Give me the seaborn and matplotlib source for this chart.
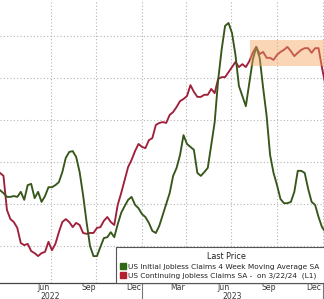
import matplotlib
matplotlib.use("Agg")
import matplotlib.pyplot as plt
import matplotlib.dates as mdates
from matplotlib.lines import Line2D
import seaborn as sns
import pandas as pd

# ---------------- data (weekly, thousands) ----------------
start_date = "2022-03-13"
continuing_claims = [
    1481, 1474, 1467, 1386, 1364, 1357, 1343, 1307, 1302, 1305,
    1288, 1283, 1276, 1283, 1286, 1310, 1290, 1305, 1333, 1357,
    1364, 1357, 1345, 1355, 1350, 1331, 1329, 1331, 1331, 1343,
    1345, 1360, 1369, 1357, 1350, 1398, 1426, 1457, 1488, 1505,
    1526, 1543, 1536, 1533, 1552, 1557, 1588, 1593, 1595, 1593,
    1612, 1619, 1631, 1645, 1650, 1657, 1683, 1667, 1655, 1655,
    1660, 1660, 1674, 1664, 1698, 1702, 1702, 1714, 1726, 1738,
    1726, 1733, 1726, 1740, 1760, 1774, 1757, 1762, 1748, 1748,
    1743, 1755, 1762, 1767, 1774, 1764, 1752, 1760, 1767, 1771,
    1771, 1760, 1771, 1771, 1724, 1683,
]
initial_claims_4wk = [
    213.8, 213.3, 212.6, 211.7, 211.7, 211.9, 211.7, 212.9, 211.0, 214.5,
    214.8, 211.4, 212.9, 210.5, 211.9, 214.0, 214.0, 214.5, 215.2, 217.6,
    221.0, 222.4, 222.6, 221.2, 217.6, 212.1, 205.7, 200.0, 197.6, 197.6,
    199.8, 201.9, 202.1, 203.3, 202.1, 205.2, 207.9, 209.5, 211.0, 211.7,
    209.8, 209.0, 207.6, 206.9, 205.5, 203.6, 203.1, 204.8, 207.4, 210.0,
    212.6, 216.7, 218.6, 221.7, 226.4, 224.3, 223.6, 222.9, 217.4, 216.7,
    217.6, 218.6, 224.0, 229.5, 239.5, 246.7, 252.4, 253.1, 250.7, 245.5,
    238.1, 235.7, 233.3, 238.8, 244.3, 247.4, 244.8, 237.6, 231.0, 221.7,
    217.4, 214.5, 211.2, 210.2, 210.2, 210.5, 212.9, 217.9, 217.9, 217.4,
    213.6, 210.5, 209.8, 206.9, 204.5, 203.3,
]
label_initial = "US Initial Jobless Claims 4 Week Moving Average SA  (R"
label_continuing = "US Continuing Jobless Claims SA -  on 3/22/24  (L1)"
legend_title = "Last Price"

month_label_dates = ["2022-06-15", "2022-09-15", "2022-12-15",
                     "2023-03-15", "2023-06-15", "2023-09-15", "2023-12-15"]
month_labels = ["Jun", "Sep", "Dec", "Mar", "Jun", "Sep", "Dec"]
year_label_dates = ["2022-06-29", "2023-07-02"]
year_labels = ["2022", "2023"]
year_break_dates = ["2023-01-01", "2024-01-01"]
quarter_grid_dates = ["2022-07-01", "2022-10-01", "2023-01-01", "2023-04-01",
                      "2023-07-01", "2023-10-01", "2024-01-01"]
left_grid_values = [1300, 1400, 1500, 1600, 1700, 1800]

band_start = "2023-08-07"
band_end = "2024-01-10"
band_low, band_high = 242.9, 249.0   # right-axis units

x_range = ("2022-03-20", "2024-01-04")
left_range = (1211.9, 1885.7)
right_range = (191.2, 258.57)

# ---------------- frame ----------------
dates = pd.date_range(start_date, periods=len(continuing_claims), freq="7D")
df = pd.DataFrame({"date": dates,
                   "continuing": continuing_claims,
                   "initial": initial_claims_4wk})

sns.set_style("white")
plt.rcParams["font.family"] = ["DejaVu Sans"]

GREEN = "#36561a"
RED = "#a01f3a"
GRID = "#b4b4b4"
TXT = "#3a3a3a"

fig = plt.figure(figsize=(3.24, 2.99), dpi=100)
ax = fig.add_axes([0, 16 / 299, 1, 283 / 299])
ax2 = ax.twinx()

sns.lineplot(data=df, x="date", y="continuing", ax=ax, color=RED, lw=1.35)
sns.lineplot(data=df, x="date", y="initial", ax=ax2, color=GREEN, lw=1.35)

ax.set_xlim(pd.Timestamp(x_range[0]), pd.Timestamp(x_range[1]))
ax.set_ylim(*left_range)
ax2.set_ylim(*right_range)

# grid
ax.set_yticks(left_grid_values)
ax.yaxis.grid(True, color=GRID, ls=(0, (1, 2)), lw=0.8)
for d in quarter_grid_dates:
    ax.axvline(pd.Timestamp(d), color=GRID, ls=(0, (1, 2)), lw=0.8, zorder=0)
ax.tick_params(axis="y", left=False, labelleft=False)
ax2.tick_params(axis="y", right=False, labelright=False)
ax.set_ylabel("")
ax2.set_ylabel("")
ax.set_xlabel("")
ax2.set_xlabel("")

for s in ["top", "left", "right"]:
    ax.spines[s].set_visible(False)
    ax2.spines[s].set_visible(False)
ax2.spines["bottom"].set_visible(False)
ax.spines["bottom"].set_color("#444444")
ax.spines["bottom"].set_linewidth(0.9)

# x ticks: month marks + mid-month labels
ax.xaxis.set_major_locator(mdates.MonthLocator())
ax.xaxis.set_major_formatter(plt.NullFormatter())
ax.set_xticks([pd.Timestamp(d) for d in month_label_dates], minor=True)
ax.set_xticklabels(month_labels, minor=True)
ax.tick_params(axis="x", which="major", length=2, width=0.7, color="#555555",
               direction="out")
ax.tick_params(axis="x", which="minor", length=0, pad=0.3, labelsize=5.6,
               labelcolor=TXT)

# year labels and separators
for d, lab in zip(year_label_dates, year_labels):
    ax.text(pd.Timestamp(d), -0.031, lab, transform=ax.get_xaxis_transform(),
            ha="center", va="top", fontsize=5.6, color=TXT)
for d in year_break_dates:
    ax.add_line(Line2D([pd.Timestamp(d)] * 2, [0, -0.07],
                       transform=ax.get_xaxis_transform(), color="#777777",
                       lw=0.8, clip_on=False))

# highlight band
ax2.fill_between([pd.Timestamp(band_start), pd.Timestamp(band_end)],
                 band_low, band_high, color="#f4a35e", alpha=0.45, lw=0,
                 zorder=4)

# legend
handles = [Line2D([], [], ls="none", marker="s", ms=4.5, color="#2f6a12"),
           Line2D([], [], ls="none", marker="s", ms=4.5, color="#b3202f")]
leg = ax2.legend(handles, [label_initial, label_continuing], title=legend_title,
                 loc="lower left", bbox_to_anchor=(116 / 324, 0.0),
                 bbox_transform=ax.transAxes, frameon=True, fancybox=False,
                 fontsize=5.3, title_fontsize=5.8, borderpad=0.6,
                 handlelength=0.7, handletextpad=0.35, labelspacing=0.3,
                 borderaxespad=0.0)
leg.get_frame().set_edgecolor("#555555")
leg.get_frame().set_linewidth(0.8)
leg.get_frame().set_alpha(1)
for t in leg.get_texts():
    t.set_color("#222222")
leg.get_title().set_color("#222222")
leg.set_zorder(10)

fig.savefig("out.png", dpi=100)
